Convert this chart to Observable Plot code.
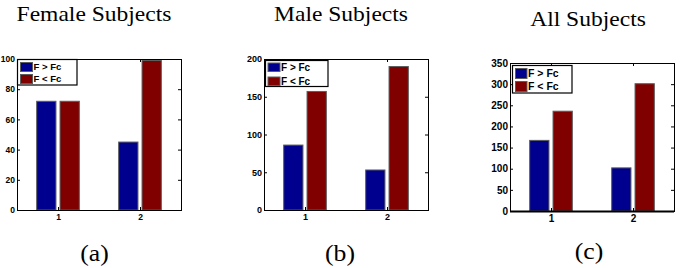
<!DOCTYPE html>
<html><head><meta charset="utf-8">
<script src="https://cdn.jsdelivr.net/npm/d3@7"></script>
<script src="https://cdn.jsdelivr.net/npm/@observablehq/plot@0.6"></script>
<style>
body{margin:0;background:#fff;}
#root{position:relative;width:681px;height:268px;overflow:hidden;background:#fff;}
.panel{position:absolute;top:0;}
.panel svg{display:block;max-width:none;}
.panel svg text{font-family:"Liberation Sans",Arial,Helvetica,sans-serif !important;font-weight:bold !important;}
#overlay{position:absolute;left:0;top:0;pointer-events:none;}
#overlay .serif{font-family:"Liberation Serif","Times New Roman",Times,serif;}
#overlay .sans{font-family:"Liberation Sans",Arial,Helvetica,sans-serif;font-weight:bold;}
</style></head>
<body>
<div id="root"></div>
<script>
// ---- data ----
const groups = [1, 2];
const series = ["F > Fc", "F < Fc"];
const femaleAbove = [72, 45];
const femaleBelow = [72, 99];
const maleAbove = [86, 53];
const maleBelow = [157, 190];
const allAbove = [167, 102];
const allBelow = [236, 301];
const titles = ["Female Subjects", "Male Subjects", "All Subjects"];
const captions = ["(a)", "(b)", "(c)"];
const yTicksA = [0, 20, 40, 60, 80, 100];
const yTicksB = [0, 50, 100, 150, 200];
const yTicksC = [0, 50, 100, 150, 200, 250, 300, 350];
const yMax = [100, 200, 350];
const xTicks = [1, 2];
const colors = ["#00008f", "#800000"];

// ---- layout ----
const panels = [
  {above: femaleAbove, below: femaleBelow, ticks: yTicksA, ymax: yMax[0], left: 0, width: 227, mL: 17, mR: 46, mT: 59, mB: 58, fs: 8.5, thick: 1,
   title: {x: 94, y: 21}, cap: {x: 94.5, y: 261}, leg: {x: 17.5, y: 59.5, w: 59.5, h: 25.5, sx: 20, sw: 12, sh: 9, sy: [62, 74], tx: 33.5, fs: 9.5}},
  {above: maleAbove, below: maleBelow, ticks: yTicksB, ymax: yMax[1], left: 227, width: 227, mL: 37, mR: 26, mT: 59, mB: 58, fs: 9, thick: 1,
   title: {x: 341, y: 21}, cap: {x: 340, y: 261}, leg: {x: 265.5, y: 60.5, w: 62.5, h: 26, sx: 267.5, sw: 12, sh: 8.5, sy: [62.5, 76.5], tx: 281, fs: 10}},
  {above: allAbove, below: allBelow, ticks: yTicksC, ymax: yMax[2], left: 454, width: 227, mL: 56, mR: 7, mT: 63, mB: 57, fs: 10, thick: 2,
   title: {x: 588, y: 26}, cap: {x: 589, y: 259}, leg: {x: 512.5, y: 65.5, w: 59.5, h: 27.5, sx: 515, sw: 11.5, sh: 10, sy: [68, 81], tx: 528, fs: 10.5}}
];
const BW = 0.235, OFF = [-0.1425, 0.1425];
const H = 268;
const root = document.getElementById("root");

panels.forEach((p, k) => {
  const rows = [];
  groups.forEach((g, i) => {
    rows.push({group: g, s: 0, series: series[0], value: p.above[i]});
    rows.push({group: g, s: 1, series: series[1], value: p.below[i]});
  });
  const pw = p.width - p.mL - p.mR, ph = H - p.mT - p.mB;
  const chart = Plot.plot({
    width: p.width, height: H,
    marginLeft: p.mL, marginRight: p.mR, marginTop: p.mT, marginBottom: p.mB,
    style: {fontFamily: "'Liberation Sans', Arial, sans-serif", fontWeight: "bold", fontSize: p.fs + "px", background: "transparent", color: "#000"},
    x: {domain: [0.5, 2.5], axis: null},
    y: {domain: [0, p.ymax], axis: null},
    color: {domain: series, range: colors},
    marks: [
      Plot.rectY(rows, {x1: d => d.group + OFF[d.s] - BW / 2, x2: d => d.group + OFF[d.s] + BW / 2, y: "value", fill: "series", stroke: "#5c5c5c", strokeWidth: 1}),
      Plot.tickY(p.ticks, {y: d => d, insetRight: pw - 3, stroke: "#000"}),
      Plot.tickY(p.ticks, {y: d => d, insetLeft: pw - 3, stroke: "#000"}),
      Plot.tickX(xTicks, {x: d => d, insetTop: ph - 3, stroke: "#000"}),
      Plot.tickX(xTicks, {x: d => d, insetBottom: ph - 3, stroke: "#000"}),
      Plot.frame({stroke: "#000", strokeWidth: 1}),
      Plot.ruleY([0], {stroke: "#000", strokeWidth: p.thick}),
      Plot.axisY(p.ticks, {tickSize: 0, tickPadding: 2.5, fontWeight: "bold", fontSize: p.fs, fill: "#000", label: null}),
      Plot.axisX(xTicks, {tickSize: 0, tickPadding: 3.5, fontWeight: "bold", fontSize: p.fs, fill: "#000", label: null})
    ]
  });
  const div = document.createElement("div");
  div.className = "panel";
  div.style.left = p.left + "px";
  div.style.width = p.width + "px";
  div.appendChild(chart);
  root.appendChild(div);
});

// overlay: titles, captions, legends
const ns = "http://www.w3.org/2000/svg";
const ov = document.createElementNS(ns, "svg");
ov.setAttribute("id", "overlay");
ov.setAttribute("width", 681);
ov.setAttribute("height", 268);
function el(tag, attrs, text) {
  const e = document.createElementNS(ns, tag);
  for (const a in attrs) e.setAttribute(a, attrs[a]);
  if (text != null) e.textContent = text;
  ov.appendChild(e);
  return e;
}
panels.forEach((p, k) => {
  el("text", {class: "serif", transform: `translate(${p.title.x},${p.title.y}) scale(1.07,1)`, "text-anchor": "middle",
    "font-size": 22, fill: "#000"}, titles[k]);
  el("text", {class: "serif", transform: `translate(${p.cap.x},${p.cap.y}) scale(1.07,1)`, "text-anchor": "middle",
    "font-size": 24, fill: "#000"}, captions[k]);
  const L = p.leg;
  el("rect", {x: L.x, y: L.y, width: L.w, height: L.h, fill: "#fff", stroke: "#000", "stroke-width": 1.2});
  series.forEach((s, j) => {
    el("rect", {x: L.sx + 0.5, y: L.sy[j] + 0.5, width: L.sw, height: L.sh, fill: colors[j], stroke: "#5c5c5c", "stroke-width": 1});
    el("text", {class: "sans", x: L.tx, y: L.sy[j] + L.sh / 2 + 0.5, dy: "0.36em", "font-size": L.fs, fill: "#000"}, s);
  });
});
root.appendChild(ov);
</script>
</body></html>
